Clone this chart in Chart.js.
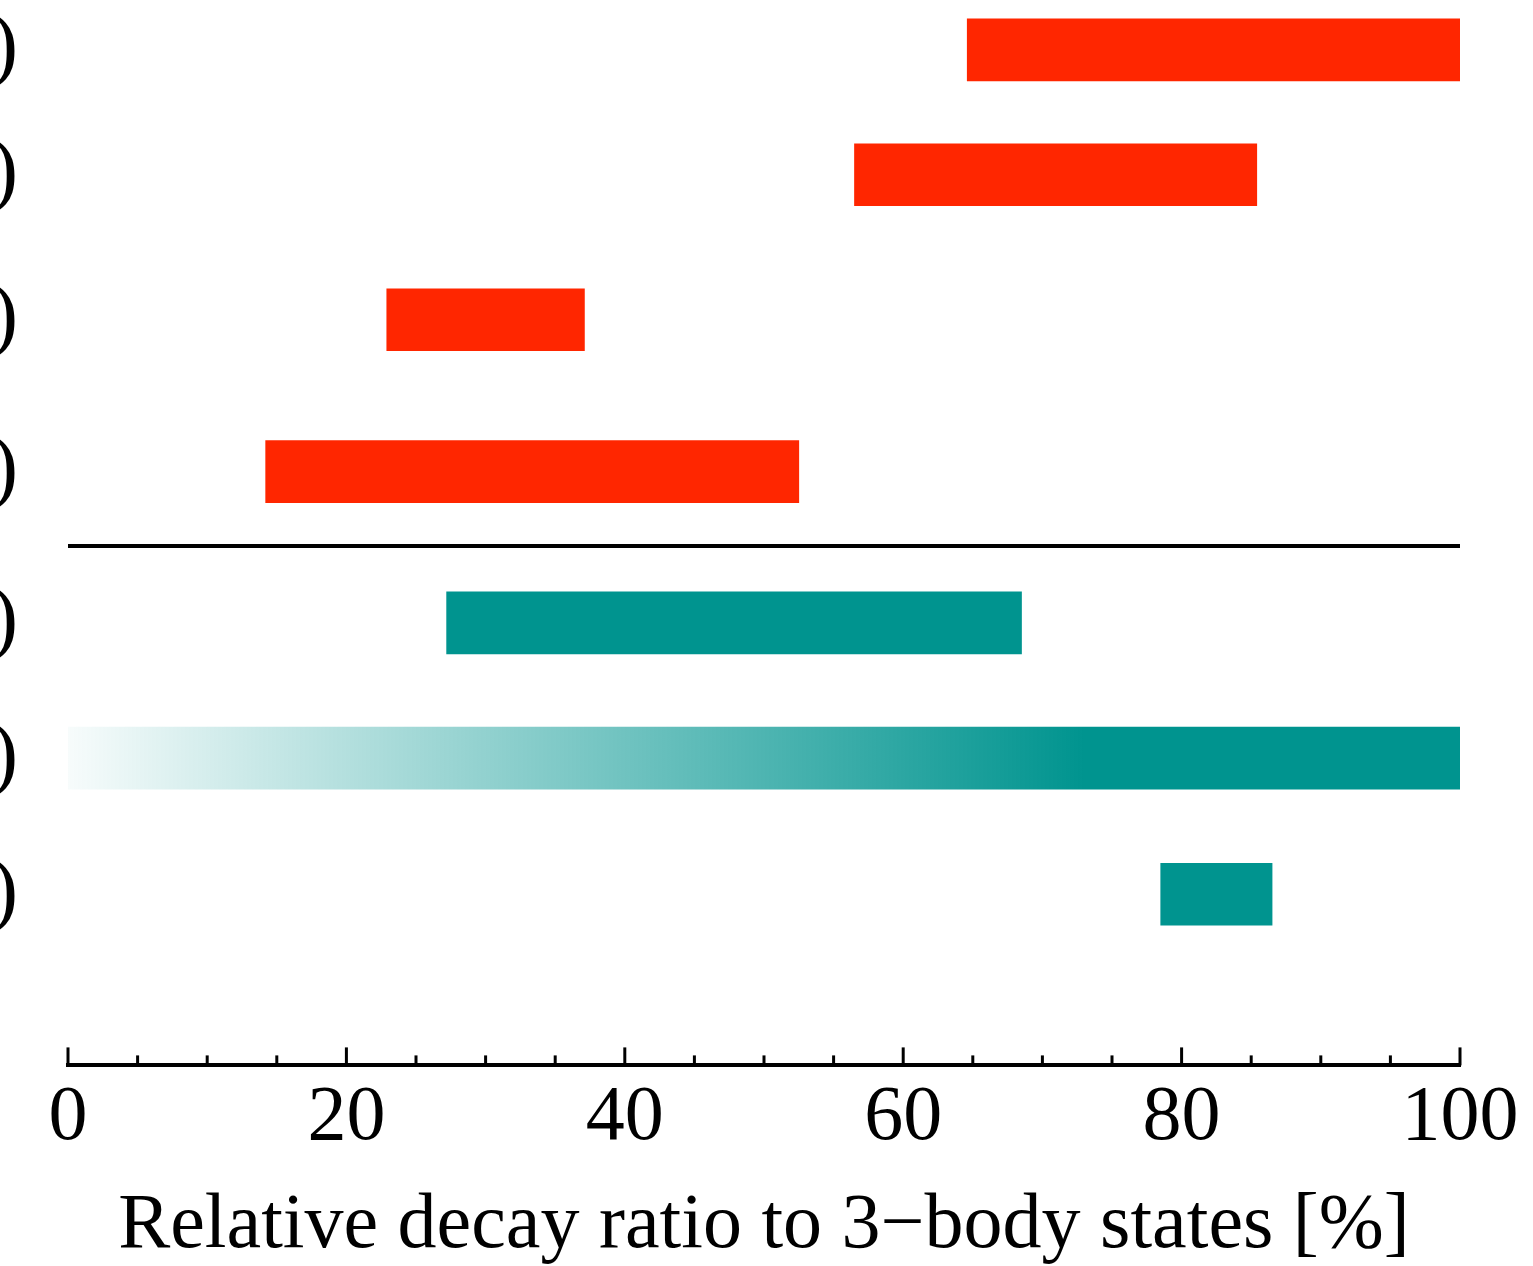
<!DOCTYPE html>
<html>
<head>
<meta charset="utf-8">
<script src="https://cdn.jsdelivr.net/npm/chart.js@4/dist/chart.umd.min.js"></script>
<style>
  html, body { margin: 0; padding: 0; background: #ffffff; }
  #wrap { width: 1533px; height: 1266px; position: relative; }
</style>
</head>
<body>
<div id="wrap"><canvas id="c"></canvas></div>
<script>
// ---- data ----
const categories = [')', ')', ')', ')', ')', ')', ')'];
const rowPositions = [7.32, 6.42, 5.375, 4.28, 3.19, 2.215, 1.234];
const barStart = [64.6, 56.5, 22.9, 14.2, 27.2, 0, 78.5];
const barEnd   = [100, 85.4, 37.1, 52.5, 68.5, 100, 86.5];
const barGroup = ['red', 'red', 'red', 'red', 'teal', 'tealFade', 'teal'];
const separatorAt = 3.745;
const fadeFullAt = 73;           // % where the faded bar reaches full colour
const xMajorTicks = [0, 20, 40, 60, 80, 100];
const xMinorStep = 5;
const xTitle = 'Relative decay ratio to 3\u2212body states [%]';

const RED = 'rgb(255,38,0)';
const TEAL = 'rgb(0,148,143)';
const SERIF = '"Liberation Serif", "DejaVu Serif", serif';

const points = rowPositions.map((y, i) => ({ y: y, x: [barStart[i], barEnd[i]] }));

function barColor(ctx) {
  const g = barGroup[ctx.dataIndex];
  if (g === 'red') return RED;
  if (g === 'teal') return TEAL;
  const chart = ctx.chart;
  const xs = chart.scales.x;
  if (!chart.chartArea || !xs) return TEAL;
  const x0 = xs.getPixelForValue(barStart[ctx.dataIndex]);
  const x1 = xs.getPixelForValue(fadeFullAt);
  const grad = chart.ctx.createLinearGradient(x0, 0, x1, 0);
  grad.addColorStop(0, 'rgba(0,148,143,0.03)');
  grad.addColorStop(1, 'rgba(0,148,143,1)');
  return grad;
}

const decorPlugin = {
  id: 'decor',
  afterDraw(chart) {
    const { ctx } = chart;
    const xs = chart.scales.x, ys = chart.scales.y;
    ctx.save();
    // separator line
    const sy = ys.getPixelForValue(separatorAt);
    ctx.strokeStyle = '#000';
    ctx.lineWidth = 4;
    ctx.beginPath();
    ctx.moveTo(xs.getPixelForValue(0), sy);
    ctx.lineTo(xs.getPixelForValue(100), sy);
    ctx.stroke();
    // inward tick marks on x axis
    const base = chart.chartArea.bottom;
    ctx.lineWidth = 3;
    for (let v = xs.min; v <= xs.max + 1e-9; v += xMinorStep) {
      const px = xs.getPixelForValue(v);
      const len = xMajorTicks.includes(v) ? 18 : 10;
      ctx.beginPath();
      ctx.moveTo(px, base);
      ctx.lineTo(px, base - len);
      ctx.stroke();
    }
    ctx.restore();
  }
};

new Chart(document.getElementById('c'), {
  type: 'bar',
  data: {
    datasets: [{
      data: points,
      backgroundColor: barColor,
      borderWidth: 0,
      barThickness: 62,
      borderSkipped: false
    }]
  },
  options: {
    indexAxis: 'y',
    responsive: true,
    maintainAspectRatio: false,
    animation: false,
    layout: { padding: { top: 0, right: 73, bottom: 0, left: 0 } },
    plugins: { legend: { display: false }, tooltip: { enabled: false } },
    scales: {
      x: {
        type: 'linear',
        min: 0, max: 100,
        afterBuildTicks(scale) { scale.ticks = xMajorTicks.map(v => ({ value: v })); },
        grid: { display: false, drawTicks: false },
        border: { display: true, color: '#000', width: 4 },
        ticks: { color: '#000', font: { family: SERIF, size: 78 }, padding: 6, maxRotation: 0 },
        title: { display: true, text: xTitle, color: '#000', font: { family: SERIF, size: 78, lineHeight: 1 }, padding: { top: 17, bottom: 0 } }
      },
      y: {
        type: 'linear',
        offset: false,
        min: 0, max: 7.68,
        afterBuildTicks(scale) { scale.ticks = rowPositions.map(v => ({ value: v })); },
        afterFit(scale) {
          scale.width = 68;
          scale.paddingTop = 0;
          scale.paddingBottom = 0;
        },
        grid: { display: false, drawTicks: false },
        border: { display: false },
        ticks: {
          color: '#000',
          font: { family: SERIF, size: 82 },
          padding: 50,
          crossAlign: 'near',
          callback(value, index) { return categories[index]; }
        }
      }
    }
  },
  plugins: [decorPlugin]
});
</script>
</body>
</html>
